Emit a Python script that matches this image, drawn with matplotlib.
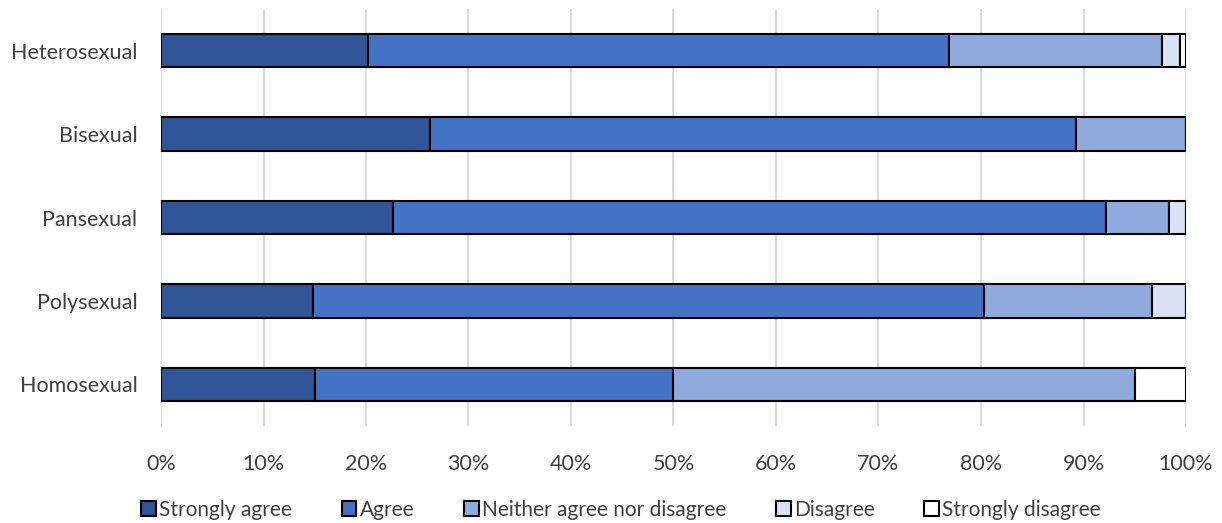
import numpy as np
import matplotlib.pyplot as plt

plt.rcParams['font.family'] = ['Lato', 'DejaVu Sans']

groups = ["Heterosexual", "Bisexual", "Pansexual", "Polysexual", "Homosexual"]
labels = ["Strongly agree", "Agree", "Neither agree nor disagree",
          "Disagree", "Strongly disagree"]
strongly_agree = [20.2, 26.2, 22.6, 14.8, 15.0]
agree = [56.7, 63.1, 69.6, 65.5, 35.0]
neither = [20.8, 10.7, 6.1, 16.4, 45.0]
disagree = [1.7, 0.0, 1.7, 3.3, 0.0]
strongly_disagree = [0.6, 0.0, 0.0, 0.0, 5.0]
colors = ["#2F5597", "#4472C4", "#8FAADC", "#DAE3F3", "#FFFFFF"]

series = [strongly_agree, agree, neither, disagree, strongly_disagree]

fig = plt.figure(figsize=(12.22, 5.23), dpi=100)
ax = fig.add_axes([161 / 1222, 1 - 426 / 523, 1025 / 1222, (426 - 9) / 523])

ypos = np.arange(len(groups))[::-1]
left = np.zeros(len(groups))
for vals, lab, col in zip(series, labels, colors):
    vals = np.array(vals)
    ax.barh(ypos, vals, left=left, height=0.4, color=col, edgecolor="black",
            linewidth=1.5, label=lab, zorder=3)
    left += vals

ax.set_xlim(0, 100)
ax.set_ylim(-0.5, 4.5)
ax.set_xticks(np.arange(0, 101, 10))
ax.set_xticklabels([f"{v}%" for v in range(0, 101, 10)])
ax.set_yticks(ypos)
ax.set_yticklabels(groups)
ax.tick_params(axis="both", length=0, labelsize=15.5, colors="#404040")
ax.tick_params(axis="x", pad=20)
ax.tick_params(axis="y", pad=17)
ax.grid(axis="x", color="#D9D9D9", linewidth=1.3, zorder=0)
for s in ax.spines.values():
    s.set_visible(False)

fig.legend(loc="center", bbox_to_anchor=(621 / 1222, 1 - 510 / 523), ncol=5,
           frameon=False, fontsize=15, handlelength=0.7, handleheight=0.7,
           handletextpad=0.15, columnspacing=2.4, labelcolor="#404040")

fig.savefig("out.png", dpi=100)
